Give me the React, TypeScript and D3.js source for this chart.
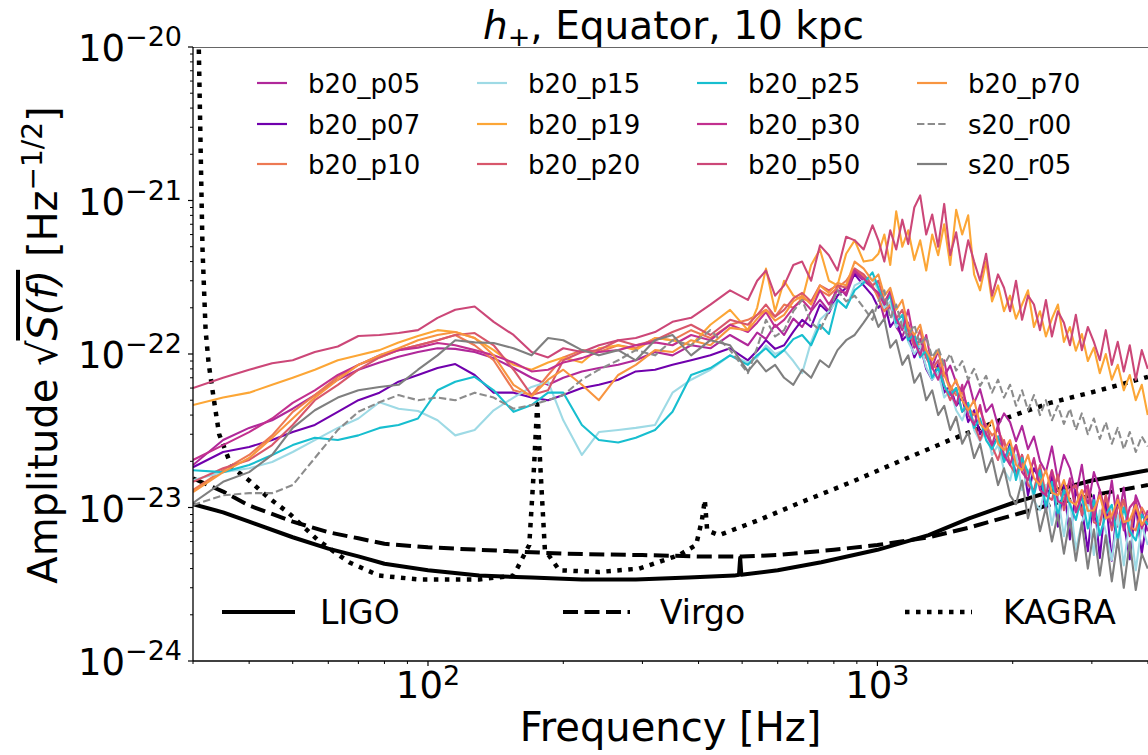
import React from 'react';
import * as d3 from 'd3';

// ---------- DATA ----------
// shared frequency grid (Hz) for the simulated spectra
const freqs = [30, 35, 40, 45, 50, 56, 63, 70, 78, 86, 95, 105, 115, 127, 140, 155, 170, 185, 200, 220, 240, 265, 290, 320, 350, 385, 425, 470,
  515, 540, 565, 592, 620, 650, 680, 712, 745, 780, 815, 852, 890, 932, 975,
  1005, 1036, 1068, 1101, 1136, 1171, 1208, 1245, 1284, 1324, 1365, 1408, 1452, 1497, 1544, 1592, 1641, 1692, 1745, 1799,
  1855, 1913, 1973, 2034, 2098, 2163, 2230, 2300, 2371, 2445, 2521, 2600, 2681, 2764, 2850, 2939, 3031, 3125, 3222, 3323,
  3426, 3533, 3643, 3757, 3874, 3995];

// amplitudes in units of 1e-23 Hz^-1/2
const UNIT = 1e-23;

const b20_p05 = [1.89, 2.75, 3.3, 3.7, 4.4, 5.4, 6.8, 7.9, 8.8, 9.6, 10.3, 10.9, 10.8, 10.3, 9.4, 8.1, 7.0, 6.3, 7.0, 7.7, 8.1, 8.5, 9.1, 10.3, 9.8, 11.4, 10.9, 13.3,
  11.4, 13.8, 12.5, 15.5, 13.3, 17, 15, 19, 22.5, 19, 28, 24, 34, 30, 27,
  24, 17, 21, 15, 13, 16, 11, 12.5, 9.5, 8.2, 10.5, 7.2, 8.4, 6.5, 5.6, 6.8, 4.8, 5.9, 4.2, 4.7,
  3.4, 4.1, 3.6, 2.7, 3.4, 2.4, 2.9, 2.0, 1.7, 2.5, 1.5, 2.2, 1.8, 1.2, 1.9, 1.0, 1.7, 1.3, 0.85, 1.5,
  0.75, 1.35, 0.65, 1.2, 0.95, 0.7];
const b20_p07 = [1.83, 2.3, 2.48, 2.75, 3.1, 3.45, 4.2, 5.0, 5.6, 6.6, 7.3, 8.1, 8.6, 7.3, 5.6, 5.6, 5.2, 5.0, 5.4, 6.0, 6.3, 6.8, 7.7, 7.9, 8.5, 9.1, 9.8, 10.9,
  9.1, 10.5, 12.3, 10.8, 11.4, 14, 16.7, 15, 21, 18.5, 24, 27, 33, 28, 24,
  20, 22, 15, 17, 12.3, 13.5, 9.5, 11.4, 8.0, 6.8, 8.6, 5.6, 6.2, 4.6, 5.2, 3.6, 4.3, 3.0, 3.5, 2.5,
  2.9, 2.0, 2.6, 1.6, 2.2, 1.2, 1.8, 1.5, 0.95, 1.6, 0.75, 1.4, 0.62, 1.3, 1.0, 0.52, 1.2, 0.47, 1.15, 0.45,
  1.1, 0.8, 0.46, 1.05, 0.5, 0.9];
const b20_p10 = [1.30, 1.75, 2.2, 2.95, 4.2, 5.4, 7.1, 8.5, 9.5, 10.6, 11.4, 12.3, 13.3, 11.4, 9.1, 5.8, 5.4, 7.3, 9.5, 10.6, 10.3, 11.4, 10.9, 12.7, 12.3, 14.3, 12.7, 15.5,
  16.7, 18, 19.4, 17.5, 21, 20, 23, 22, 26, 24, 27, 30, 36, 32, 28,
  23, 19, 21, 16.7, 15, 14.3, 12, 11.4, 10.6, 8.5, 7.9, 7.3, 6.2, 5.4, 5.6, 4.5, 4.0, 4.3, 3.4, 2.95,
  3.2, 2.6, 2.2, 2.55, 1.9, 1.63, 2.04, 1.5, 1.30, 1.75, 1.3, 1.12, 1.51, 1.0, 0.96, 1.34, 0.9, 0.83, 1.2, 0.85,
  0.77, 1.12, 0.75, 0.71, 1.0, 0.85];
const b20_p15 = [1.51, 1.70, 1.80, 1.98, 2.3, 2.75, 3.3, 3.8, 4.85, 4.4, 4.25, 3.7, 2.95, 3.2, 4.3, 5.2, 6.1, 6.6, 3.7, 2.2, 3.1, 3.2, 3.3, 3.45, 5.6, 6.8, 7.9, 9.8,
  8.8, 9.5, 11.4, 10, 10.6, 9, 7.5, 12, 16.7, 19, 22.5, 20, 28, 30, 31,
  26, 20, 22, 15, 16.7, 12, 10, 11.4, 8.2, 6.8, 7.6, 5.2, 5.8, 4.3, 3.7, 4.65, 3.2, 2.7, 3.2, 2.2,
  2.55, 1.75, 1.5, 2.2, 1.30, 1.75, 1.1, 0.96, 1.4, 0.77, 1.2, 0.65, 1.12, 0.53, 0.8, 1.04, 0.49, 0.96, 0.7, 0.455,
  0.89, 0.42, 0.83, 0.39, 0.77, 0.57];
const b20_p19 = [4.65, 5.2, 5.6, 6.3, 7.0, 7.9, 9.1, 9.8, 10.6, 11.9, 13.1, 14.3, 13.9, 12.7, 10.6, 8.5, 7.9, 8.8, 9.5, 8.8, 10.9, 11.4, 10.6, 12.7, 12.3, 11.4, 15.5, 19.4,
  14.3, 20, 36, 19, 30, 24, 22.5, 38, 48, 30, 28, 45, 55, 40, 41,
  45, 60, 38, 85, 50, 64, 41, 55, 35, 60, 44, 70, 38, 87, 60, 80, 33, 26, 40, 22,
  28, 19, 24, 17, 21, 26, 15, 19, 13, 17, 21, 12, 15, 10.5, 13.5, 9, 11, 7.5, 10, 6.8,
  8.5, 5.8, 7.3, 5.0, 6.3, 4.0];
const b20_p20 = [1.47, 1.80, 2.04, 2.55, 3.45, 5.0, 6.3, 7.9, 9.5, 10.6, 11.4, 12.3, 13.3, 13.7, 11.4, 7.9, 5.4, 5.8, 9.1, 10.3, 10.6, 12.3, 11.4, 12.3, 13.9, 15.5, 13.3, 16.7,
  15.5, 18, 21, 17.5, 19.4, 23, 25, 22, 28, 26, 28, 27, 36, 33, 28,
  30, 22, 25, 17, 19.4, 14, 11.4, 14.3, 9.5, 8.0, 9.1, 6.3, 5.0, 6.0, 4.2, 4.65, 3.5, 2.75, 3.45, 2.5,
  2.04, 2.75, 1.9, 1.63, 2.2, 1.4, 1.30, 1.89, 1.2, 1.12, 1.63, 0.96, 1.3, 1.40, 0.89, 1.30, 0.8, 0.77, 1.20, 0.71,
  1.0, 1.12, 0.66, 1.04, 0.75, 0.83];
const b20_p25 = [1.75, 1.70, 1.89, 2.2, 2.55, 2.85, 2.75, 2.95, 3.3, 3.45, 3.8, 5.8, 6.6, 7.1, 5.8, 4.2, 4.65, 5.6, 5.6, 3.45, 2.75, 2.65, 2.85, 3.2, 4.2, 7.3, 8.1, 9.8,
  8.5, 9.8, 10.9, 9.5, 10.6, 12.5, 13.3, 11.4, 15.5, 13.5, 22.5, 20, 26, 29, 34,
  27, 21, 24, 16, 18, 12.3, 13.5, 9.5, 10.5, 7.0, 8.1, 6.2, 5.4, 6.0, 4.2, 4.8, 3.3, 3.8, 2.75, 2.4,
  2.9, 1.98, 2.5, 1.51, 2.1, 1.7, 1.20, 1.75, 1.0, 1.47, 0.89, 1.30, 1.05, 0.83, 1.20, 0.73, 1.12, 0.66, 0.9, 1.04,
  0.61, 1.0, 0.7, 0.61, 0.9, 0.77];
const b20_p30 = [2.04, 2.55, 3.1, 3.8, 4.8, 5.8, 7.3, 8.5, 9.8, 10.6, 11.0, 11.8, 11.4, 10.6, 9.8, 8.8, 7.7, 7.9, 8.8, 9.4, 10.3, 10.6, 11.4, 11.9, 11.4, 13.3, 12.3, 15.5,
  13.9, 16, 18.8, 15, 16.7, 20, 22.5, 19.4, 26, 21, 26, 25, 35, 31, 27,
  25, 21, 26, 17, 14.3, 19.4, 12, 9.8, 13.3, 8.2, 6.8, 9.1, 5.6, 4.65, 6.3, 4.0, 3.45, 4.65, 3.0, 2.55,
  3.45, 2.2, 1.89, 2.55, 1.7, 1.51, 2.1, 1.3, 1.20, 1.75, 1.1, 1.04, 1.55, 0.93, 1.2, 1.40, 0.83, 1.30, 0.9, 0.77,
  1.20, 0.71, 1.0, 1.12, 0.73, 0.96];
const b20_p50 = [6.0, 7.0, 7.9, 8.7, 9.1, 10.3, 11.2, 13.1, 13.3, 13.7, 14.3, 17.2, 19.4, 20.4, 16.2, 13.3, 10.3, 9.5, 10.9, 10.3, 11.4, 12.3, 12.7, 13.9, 16.2, 17.2, 21, 26,
  22.5, 30, 35, 24, 28, 38, 40, 30, 51, 44, 35, 58, 55, 48, 69,
  55, 40, 64, 48, 75, 52, 90, 108, 60, 81, 50, 95, 44, 62, 35, 55, 40, 30, 45, 24,
  33, 27, 19, 30, 16.7, 24, 21, 14.3, 22.5, 13, 19, 16, 11.4, 18, 10.6, 15, 12, 9.1, 14.3, 8.5,
  12, 7.7, 11.4, 6.8, 10.6, 8.0];
const b20_p70 = [1.26, 1.70, 2.1, 2.85, 3.8, 5.2, 6.8, 8.5, 9.8, 10.9, 12.3, 13.3, 13.9, 12.7, 9.8, 6.3, 5.3, 6.8, 7.9, 6.3, 5.0, 7.3, 8.5, 10.6, 10.3, 12.3, 11.4, 14.8,
  14.3, 17, 19.4, 16.5, 18, 22, 24, 21, 28, 25, 29, 28, 40, 36, 30,
  33, 24, 27, 19.4, 22.5, 15, 13.3, 15.5, 10.5, 9.1, 10.6, 7.4, 5.8, 6.8, 5.0, 4.3, 5.0, 3.5, 3.2, 3.7,
  2.6, 2.37, 2.75, 1.9, 1.75, 2.2, 1.55, 1.40, 1.75, 1.25, 1.20, 1.51, 1.1, 1.04, 1.30, 0.95, 0.96, 1.20, 0.85, 0.89,
  1.12, 0.8, 0.83, 1.04, 0.77, 0.89];
const s20_r00 = [1.04, 1.20, 1.24, 1.24, 1.40, 2.1, 3.2, 4.2, 4.85, 5.4, 5.0, 5.2, 5.0, 5.6, 5.2, 4.4, 4.65, 5.0, 5.4, 6.8, 7.9, 9.1, 10.6, 9.8, 12.3, 11.4, 14.3, 10.6,
  7.5, 11, 16.7, 13, 14.3, 19, 22.5, 16, 14.3, 19, 26, 22, 24, 20, 16.7,
  22, 26, 17, 21, 15, 13, 15.5, 11.5, 13, 9.5, 11, 8.5, 10, 7.8, 9, 6.8, 8, 6.2, 7.2, 5.6,
  6.8, 5.2, 6.3, 4.6, 5.8, 4.3, 5.4, 4.0, 5.0, 3.7, 4.6, 3.5, 4.4, 3.2, 4.1, 3.0, 3.8, 2.8, 3.6, 2.6,
  3.3, 2.4, 3.1, 2.3, 2.9, 2.5];
const s20_r05 = [1.07, 1.47, 1.70, 2.2, 3.3, 4.3, 5.2, 5.8, 6.1, 6.3, 7.9, 9.8, 12.3, 11.9, 11.8, 10.9, 9.8, 12.7, 12.3, 10.6, 9.8, 10.6, 9.1, 12.3, 13.3, 9.8, 12.3, 11.4,
  7.7, 9.1, 7.7, 8.5, 7.0, 6.3, 7.9, 7.0, 9.1, 8.2, 10.6, 12.3, 13.3, 16, 19.4,
  15, 17, 11, 12.3, 8.5, 9.8, 6.5, 7.5, 5.0, 5.8, 4.0, 4.6, 3.2, 3.9, 2.6, 3.1, 2.1, 2.6, 1.7, 2.1,
  1.4, 1.8, 1.2, 1.05, 1.5, 0.85, 1.2, 0.7, 1.0, 0.6, 0.9, 0.5, 0.85, 0.45, 0.8, 0.4, 0.72, 0.36, 0.66, 0.33,
  0.62, 0.3, 0.6, 0.29, 0.5, 0.4];

// detector sensitivity curves (units of 1e-23)
const ligoFreq = [30, 35, 40, 50, 60, 70, 80, 100, 130, 170, 220, 290, 380, 480, 492, 495, 498, 600, 750, 1000, 1300, 1600, 2000, 2500, 3000, 4000];
const ligoAmp = [1.05, 0.93, 0.81, 0.64, 0.54, 0.48, 0.43, 0.39, 0.36, 0.35, 0.34, 0.34, 0.35, 0.36, 0.365, 0.47, 0.365, 0.39, 0.44, 0.53, 0.66, 0.85, 1.07, 1.30, 1.5, 1.75];
const virgoFreq = [30, 35, 40, 50, 60, 70, 80, 100, 150, 200, 300, 400, 500, 600, 800, 1000, 1300, 1600, 2000, 2500, 3000, 4000];
const virgoAmp = [1.55, 1.27, 1.03, 0.81, 0.69, 0.63, 0.58, 0.55, 0.52, 0.50, 0.49, 0.48, 0.48, 0.49, 0.53, 0.57, 0.64, 0.74, 0.89, 1.07, 1.2, 1.4];
const kagraFreq = [30, 30.9, 31.2, 31.5, 32.0, 32.5, 33.4, 34.3, 36.6, 40, 44, 49, 57, 66.7, 77.8, 95.5, 130, 155, 168, 172, 175, 178, 182, 196, 240, 295, 362, 395, 407, 413, 418, 444, 546, 670, 868, 1120, 1450, 1870, 2420, 3120, 4000];
const kagraAmp = [5000, 1000, 213, 48, 14.3, 8.7, 5.0, 3.0, 1.83, 1.5, 1.17, 0.92, 0.61, 0.44, 0.36, 0.34, 0.34, 0.36, 0.57, 1.75, 4.7, 1.75, 0.53, 0.39, 0.38, 0.40, 0.49, 0.57, 0.83, 1.12, 0.71, 0.66, 0.83, 1.07, 1.45, 2.0, 2.75, 3.7, 4.8, 5.8, 7.1];

const seriesNames = ['b20_p05', 'b20_p07', 'b20_p10', 'b20_p15', 'b20_p19', 'b20_p20', 'b20_p25', 'b20_p30', 'b20_p50', 'b20_p70', 's20_r00', 's20_r05'];
const seriesValues = [b20_p05, b20_p07, b20_p10, b20_p15, b20_p19, b20_p20, b20_p25, b20_p30, b20_p50, b20_p70, s20_r00, s20_r05];
const seriesColors = ['#b0289a', '#7000ad', '#ed7953', '#9edae5', '#fca636', '#d8576b', '#17becf', '#c2308f', '#cc4778', '#f89540', '#8c8c8c', '#7f7f7f'];

const detectorNames = ['LIGO', 'Virgo', 'KAGRA'];

const xMajorTicks = [100, 1000];
const xMinorTicks = [30, 40, 50, 60, 70, 80, 90, 200, 300, 400, 500, 600, 700, 800, 900, 2000, 3000, 4000];
const yMajorTicks = [1e-24, 1e-23, 1e-22, 1e-21, 1e-20];

// ---------- LAYOUT ----------
const W = 1148, H = 755;
const P = { left: 193, right: 1148, top: 47, bottom: 661 };
const FONT = 'DejaVu Sans, sans-serif';

export default function App() {
  const x = d3.scaleLog().domain([30, 4000]).range([P.left, P.right]);
  const y = d3.scaleLog().domain([1e-24, 1e-20]).range([P.bottom, P.top]);
  const line = d3.line<[number, number]>().x(d => x(d[0])).y(d => y(d[1] * UNIT));

  const yMinor = y.ticks().filter(t => !yMajorTicks.some(m => Math.abs(m - t) / m < 1e-6));

  const detPaths = [
    { name: 'LIGO', d: line(ligoFreq.map((f, i) => [f, ligoAmp[i]] as [number, number])), dash: undefined, w: 4 },
    { name: 'Virgo', d: line(virgoFreq.map((f, i) => [f, virgoAmp[i]] as [number, number])), dash: '15,6.5', w: 4 },
    { name: 'KAGRA', d: line(kagraFreq.map((f, i) => [f, kagraAmp[i]] as [number, number])), dash: '4.5,6.5', w: 4.5 },
  ];

  const legendCols = [257, 477, 697, 917];
  const legendRows = [83, 124, 164];
  const detLegend = [
    { x0: 222, x1: 295, tx: 320 },
    { x0: 563, x1: 630, tx: 660 },
    { x0: 905, x1: 972, tx: 1003 },
  ];

  return (
    <svg width={W} height={H} style={{ position: 'absolute', left: 0, top: 0, fontFamily: FONT }}>
      <rect width={W} height={H} fill="#fff" />
      <defs>
        <clipPath id="plotclip">
          <rect x={P.left} y={P.top} width={P.right - P.left} height={P.bottom - P.top} />
        </clipPath>
      </defs>

      <g clipPath="url(#plotclip)">
        {detPaths.map(p => (
          <path key={p.name} d={p.d || ''} fill="none" stroke="#000" strokeWidth={p.w}
            strokeDasharray={p.dash} strokeLinejoin="round" />
        ))}
        {seriesValues.map((vals, si) => (
          <path key={seriesNames[si]}
            d={line(freqs.map((f, i) => [f, vals[i]] as [number, number]).filter(d => d[1] != null)) || ''}
            fill="none" stroke={seriesColors[si]} strokeWidth={2.1}
            strokeDasharray={seriesNames[si] === 's20_r00' ? '7.4,3.2' : undefined}
            strokeLinejoin="round" />
        ))}
      </g>

      {/* spines */}
      <line x1={P.left} x2={P.right} y1={P.top + 0.5} y2={P.top + 0.5} stroke="#666" strokeWidth={1} />
      <line x1={P.left} x2={P.left} y1={P.top} y2={P.bottom} stroke="#000" strokeWidth={1.3} />
      <line x1={P.left} x2={P.right} y1={P.bottom} y2={P.bottom} stroke="#000" strokeWidth={1.3} />

      {/* x ticks */}
      {xMinorTicks.map(t => (
        <line key={'xm' + t} x1={x(t)} x2={x(t)} y1={P.bottom} y2={P.bottom + 3} stroke="#000" strokeWidth={1} />
      ))}
      {xMajorTicks.map(t => (
        <g key={'xM' + t}>
          <line x1={x(t)} x2={x(t)} y1={P.bottom} y2={P.bottom + 5} stroke="#000" strokeWidth={1.2} />
          <text x={x(t)} y={698} textAnchor="middle" fontSize={37}>
            10<tspan dy={-13} fontSize={27}>{Math.round(Math.log10(t))}</tspan>
          </text>
        </g>
      ))}

      {/* y ticks */}
      {yMinor.map(t => (
        <line key={'ym' + t} x1={P.left - 3} x2={P.left} y1={y(t)} y2={y(t)} stroke="#000" strokeWidth={1} />
      ))}
      {yMajorTicks.map(t => (
        <g key={'yM' + t}>
          <line x1={P.left - 5} x2={P.left} y1={y(t)} y2={y(t)} stroke="#000" strokeWidth={1.2} />
          <text x={182} y={y(t) + 14} textAnchor="end" fontSize={37}>
            10<tspan dy={-15} fontSize={27}>{'\u2212' + Math.abs(Math.round(Math.log10(t)))}</tspan>
          </text>
        </g>
      ))}

      {/* title */}
      <text x={(P.left + P.right) / 2 + 3} y={39} textAnchor="middle" fontSize={39}>
        <tspan fontStyle="italic">h</tspan><tspan dy={7} fontSize={27}>+</tspan><tspan dy={-7}>, Equator, 10 kpc</tspan>
      </text>

      {/* axis labels */}
      <text x={(P.left + P.right) / 2} y={741} textAnchor="middle" fontSize={40}>Frequency [Hz]</text>
      <text transform="translate(57,345) rotate(-90)" textAnchor="middle" fontSize={40}>
        {'Amplitude '}<tspan>{'\u221A'}</tspan><tspan fontStyle="italic" style={{ textDecoration: 'overline' }}>S(f)</tspan>{' [Hz'}<tspan dy={-15} fontSize={28}>{'\u22121/2'}</tspan><tspan dy={15}>]</tspan>
      </text>

      {/* series legend */}
      {seriesNames.map((n, i) => {
        const col = Math.floor(i / 3), row = i % 3;
        const lx = legendCols[col], ly = legendRows[row];
        return (
          <g key={'lg' + n}>
            <line x1={lx} x2={lx + 30} y1={ly} y2={ly} stroke={seriesColors[i]} strokeWidth={2.2}
              strokeDasharray={n === 's20_r00' ? '7.4,3.2' : undefined} />
            <text x={lx + 51} y={ly + 9.5} fontSize={26}>{n}</text>
          </g>
        );
      })}

      {/* detector legend */}
      {detectorNames.map((n, i) => (
        <g key={'dl' + n}>
          <line x1={detLegend[i].x0} x2={detLegend[i].x1} y1={612} y2={612} stroke="#000"
            strokeWidth={detPaths[i].w} strokeDasharray={detPaths[i].dash} />
          <text x={detLegend[i].tx} y={624} fontSize={33}>{n}</text>
        </g>
      ))}
    </svg>
  );
}
